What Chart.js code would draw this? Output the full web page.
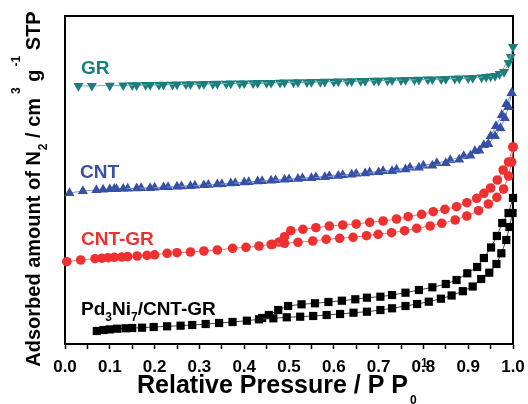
<!DOCTYPE html>
<html>
<head>
<meta charset="utf-8">
<script src="https://cdn.jsdelivr.net/npm/chart.js@4.4.1/dist/chart.umd.min.js"></script>
<style>
  html, body { margin: 0; padding: 0; background: #fff; }
  #wrap { width: 528px; height: 404px; }
</style>
</head>
<body>
<div id="wrap"><canvas id="isoChart"></canvas></div>
<script>
// N2 isotherms, y in arbitrary units (curves are offset, no y ticks)
const grAdsX = [0.03, 0.06, 0.10, 0.13, 0.16, 0.19, 0.22, 0.25, 0.28, 0.31, 0.34, 0.37, 0.40, 0.43, 0.46, 0.49, 0.52, 0.55, 0.58, 0.61, 0.64, 0.67, 0.70, 0.73, 0.76, 0.79, 0.82, 0.85, 0.88, 0.91, 0.94, 0.96, 0.98, 0.99, 1.0];
const grAdsY = [258, 258.2, 258.4, 258.7, 258.9, 259.1, 259.3, 259.6, 259.8, 260, 260.3, 260.5, 260.7, 261, 261.2, 261.5, 261.8, 262, 262.3, 262.5, 262.9, 263.1, 263.4, 263.7, 264, 264.3, 264.7, 265.1, 265.6, 266.2, 267, 268, 272, 281, 297];
const grDesX = [0.995, 0.97, 0.95, 0.93, 0.90, 0.87, 0.84, 0.81, 0.78, 0.75, 0.72, 0.69, 0.66, 0.63, 0.60, 0.57, 0.54, 0.51, 0.48, 0.45, 0.42, 0.39, 0.36, 0.33, 0.30, 0.27, 0.24, 0.21, 0.18, 0.15];
const grDesY = [287, 270, 267.5, 266.6, 265.9, 265.3, 264.9, 264.5, 264.2, 263.9, 263.6, 263.3, 263, 262.7, 262.4, 262.1, 261.9, 261.6, 261.4, 261.1, 260.9, 260.6, 260.4, 260.1, 259.9, 259.7, 259.4, 259.2, 259, 258.8];

const cntAdsX = [0.01, 0.04, 0.07, 0.085, 0.10, 0.115, 0.13, 0.16, 0.19, 0.22, 0.25, 0.28, 0.31, 0.34, 0.37, 0.40, 0.43, 0.46, 0.49, 0.52, 0.55, 0.58, 0.61, 0.64, 0.67, 0.70, 0.73, 0.76, 0.79, 0.82, 0.85, 0.88, 0.905, 0.925, 0.945, 0.96, 0.972, 0.982, 0.99, 0.997];
const cntAdsY = [151, 153, 154, 154.5, 154.8, 155, 155.3, 155.6, 156, 156.8, 157.4, 158, 158.8, 159.6, 160.6, 161.6, 162.6, 163.4, 164.4, 165.2, 166, 167, 168.2, 169.4, 170.6, 171.8, 173, 174.6, 176.4, 178.4, 181, 184.4, 188.5, 193.5, 200, 208, 216, 226, 237, 251];
const cntDesX = [0.997, 0.985, 0.975, 0.962, 0.95, 0.935, 0.915, 0.89, 0.86, 0.83, 0.80, 0.77, 0.74, 0.71, 0.68, 0.65, 0.62, 0.59, 0.56, 0.53, 0.50, 0.47, 0.44, 0.41, 0.38, 0.35, 0.32, 0.29, 0.26, 0.23, 0.20, 0.17, 0.14, 0.11];
const cntDesY = [251, 240, 229, 218, 208, 199, 193, 188, 184, 181, 178.5, 176.4, 174.5, 173, 171.6, 170.3, 169, 167.8, 166.8, 165.8, 164.8, 163.8, 163, 162, 161, 160, 159.2, 158.4, 157.7, 157, 156.4, 155.9, 155.5, 155.1];

const cgAdsX = [0.004, 0.035, 0.067, 0.082, 0.096, 0.11, 0.127, 0.14, 0.161, 0.183, 0.2, 0.228, 0.25, 0.28, 0.31, 0.34, 0.374, 0.404, 0.433, 0.463, 0.49, 0.52, 0.553, 0.583, 0.613, 0.643, 0.673, 0.699, 0.729, 0.758, 0.785, 0.815, 0.841, 0.871, 0.897, 0.923, 0.945, 0.964, 0.979, 0.99, 0.997, 1.0];
const cgAdsY = [82.3, 84, 85.3, 85.8, 86.3, 86.7, 87, 87.4, 88, 88.7, 89.2, 90.7, 91.3, 92, 93, 94, 95.7, 96.7, 98, 99.7, 100.7, 101.7, 103, 104.7, 105.7, 106.7, 108.3, 109.7, 111.3, 113.3, 115.7, 118, 120.7, 124, 128, 133.3, 140, 146.7, 155, 168, 182, 197];
const cgDesX = [1.0, 0.99, 0.978, 0.965, 0.95, 0.935, 0.919, 0.897, 0.874, 0.848, 0.822, 0.796, 0.766, 0.74, 0.71, 0.68, 0.65, 0.62, 0.59, 0.56, 0.531, 0.504, 0.49, 0.478, 0.46];
const cgDesY = [197, 182, 174, 164, 156, 150.7, 145.7, 141.3, 137.3, 134.7, 132.3, 129.7, 127.3, 125, 123, 121.7, 120, 119, 118, 116.3, 114.7, 113.3, 107.3, 102, 99.5];

const pdAdsX = [0.071, 0.086, 0.1, 0.116, 0.135, 0.15, 0.172, 0.198, 0.228, 0.258, 0.284, 0.314, 0.344, 0.374, 0.406, 0.433, 0.465, 0.495, 0.525, 0.554, 0.584, 0.614, 0.644, 0.674, 0.704, 0.73, 0.76, 0.786, 0.812, 0.839, 0.863, 0.888, 0.91, 0.929, 0.947, 0.963, 0.974, 0.985, 0.992, 0.999];
const pdAdsY = [13, 14, 14.6, 15.3, 15.7, 16, 16.3, 17, 17.7, 18.3, 19, 20, 21, 22, 23.3, 24.7, 25.7, 26.7, 27.3, 28, 29, 30, 31.3, 32.3, 34, 35.7, 38, 40, 42.3, 45.3, 48.5, 52.8, 57.5, 65, 71.3, 80, 90.7, 104, 117, 131];
const pdDesX = [1.0, 0.99, 0.976, 0.964, 0.951, 0.935, 0.92, 0.898, 0.874, 0.85, 0.82, 0.79, 0.76, 0.73, 0.704, 0.674, 0.648, 0.618, 0.588, 0.558, 0.528, 0.498, 0.476, 0.455, 0.44];
const pdDesY = [146, 131, 121, 108, 96.5, 86, 77, 70.7, 64, 60, 56.7, 54, 51.3, 49, 47.3, 46.3, 44.7, 43.3, 42, 40.7, 39.7, 38, 34, 29, 26];

const xTickStep = 0.05;
const FONT = "'Liberation Sans', Arial, sans-serif";

function pts(xs, ys) {
  return xs.map((x, i) => ({ x: x, y: ys[i] }));
}

function branch(xs, ys, color, lineColor, style, radius, rotation) {
  return {
    data: pts(xs, ys),
    borderColor: lineColor,
    borderWidth: 1,
    backgroundColor: color,
    pointStyle: style,
    pointRadius: radius,
    pointRotation: rotation || 0,
    pointBackgroundColor: color,
    pointBorderColor: color,
    pointBorderWidth: 0,
    tension: 0,
    clip: false
  };
}

// draws text made of normal / sub / sup parts, left aligned at x
function drawRich(ctx, parts, x, y, size, color) {
  let cx = x;
  ctx.fillStyle = color;
  ctx.textBaseline = 'alphabetic';
  ctx.textAlign = 'left';
  parts.forEach(p => {
    const s = p.size || size;
    ctx.font = 'bold ' + s + 'px ' + FONT;
    ctx.fillText(p.t, cx + (p.dx || 0), y + (p.dy || 0));
    if (!p.noAdvance) cx += ctx.measureText(p.t).width + (p.dx || 0);
  });
}

function richWidth(ctx, parts, size) {
  let w = 0;
  parts.forEach(p => {
    ctx.font = 'bold ' + (p.size || size) + 'px ' + FONT;
    if (!p.noAdvance) w += ctx.measureText(p.t).width + (p.dx || 0);
  });
  return w;
}

const textPlugin = {
  id: 'textPlugin',
  beforeDatasetsDraw(chart) {
    const ctx = chart.ctx;
    const a = chart.chartArea;
    ctx.save();
    ctx.strokeStyle = '#000';
    ctx.lineWidth = 2;
    ctx.strokeRect(a.left, a.top, a.right - a.left, a.bottom - a.top);
    ctx.restore();
  },
  afterDraw(chart) {
    const ctx = chart.ctx;
    ctx.save();

    // series labels
    drawRich(ctx, [{ t: 'GR' }], 81, 74, 19, '#1a7f7c');
    drawRich(ctx, [{ t: 'CNT' }], 80, 178, 19, '#3550a5');
    drawRich(ctx, [{ t: 'CNT-GR' }], 81, 245, 19, '#ee3030');
    drawRich(ctx, [
      { t: 'Pd' }, { t: '3', size: 12, dy: 6 }, { t: 'Ni' }, { t: '7', size: 12, dy: 6 }, { t: '/CNT-GR' }
    ], 81, 315, 19, '#000');

    // x title
    drawRich(ctx, [
      { t: 'Relative Pressure / P P' },
      { t: '0', size: 12, dy: 11, dx: 2, noAdvance: true },
      { t: '-1', size: 12, dy: -26, dx: 9 }
    ], 137, 393, 25, '#000');

    // y title (rotated)
    const yParts = [
      { t: 'Adsorbed amount of N' },
      { t: '2', size: 12, dy: 7, dx: 1 },
      { t: ' / cm' },
      { t: '3', size: 12, dy: -20, dx: 4 },
      { t: ' g' },
      { t: '-1', size: 12, dy: -20, dx: 3 },
      { t: ' STP' }
    ];
    const w = richWidth(ctx, yParts, 20);
    ctx.translate(40, 189);
    ctx.rotate(-Math.PI / 2);
    drawRich(ctx, yParts, -w / 2, 0, 20, '#000');
    ctx.restore();
  }
};

const ctx = document.getElementById('isoChart').getContext('2d');
new Chart(ctx, {
  type: 'line',
  data: {
    datasets: [
      branch(grAdsX, grAdsY, '#1a7f7c', '#6fb3b0', 'triangle', 5.8, 180),
      branch(grDesX, grDesY, '#1a7f7c', '#6fb3b0', 'triangle', 5.8, 180),
      branch(cntAdsX, cntAdsY, '#3550a5', '#7f92cc', 'triangle', 5.8),
      branch(cntDesX, cntDesY, '#3550a5', '#7f92cc', 'triangle', 5.8),
      branch(cgAdsX, cgAdsY, '#ee3030', '#f07a7a', 'circle', 4.8),
      branch(cgDesX, cgDesY, '#ee3030', '#f07a7a', 'circle', 4.8),
      branch(pdAdsX, pdAdsY, '#000', '#444', 'rect', 5.8),
      branch(pdDesX, pdDesY, '#000', '#444', 'rect', 5.8)
    ]
  },
  options: {
    responsive: true,
    maintainAspectRatio: false,
    animation: false,
    layout: { padding: { left: 65, right: 15, top: 16, bottom: 0 } },
    plugins: {
      legend: { display: false },
      tooltip: { enabled: false }
    },
    scales: {
      x: {
        type: 'linear',
        min: 0,
        max: 1,
        border: { display: true, color: '#000', width: 2 },
        grid: { drawOnChartArea: false, drawTicks: true, tickLength: 5, tickColor: '#000', tickWidth: 1.5 },
        ticks: {
          stepSize: xTickStep,
          autoSkip: false,
          maxRotation: 0,
          padding: 2,
          color: '#000',
          font: { family: FONT, size: 17, weight: 'bold', lineHeight: 1.9 },
          callback: (v, i) => (i % 2 === 0 ? Number(v).toFixed(1) : '')
        },
        afterFit(scale) { scale.height = 60; }
      },
      y: {
        type: 'linear',
        min: 0,
        max: 328,
        display: false
      }
    }
  },
  plugins: [textPlugin]
});
</script>
</body>
</html>
